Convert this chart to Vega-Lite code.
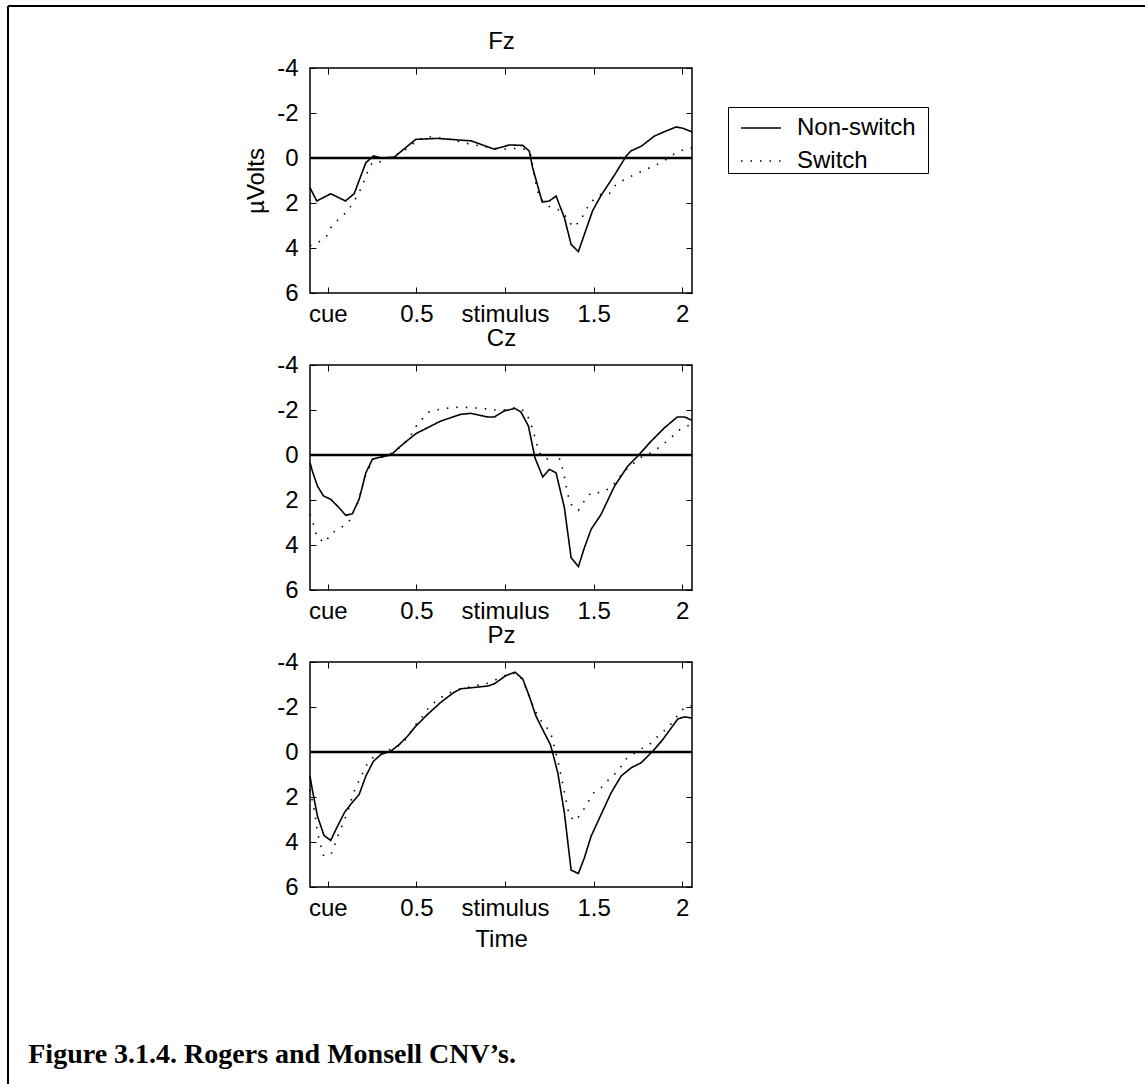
{
  "$schema": "https://vega.github.io/schema/vega-lite/v6.json",
  "background": "white",
  "padding": {"left": 6, "top": 4, "right": 0, "bottom": 0},
  "datasets": {
    "zero": [{"t": -0.1, "v": 0}, {"t": 2.055, "v": 0}],
    "eeg": [
      {"s":"Fz","c":"Non-switch","t":-0.1,"v":1.32},{"s":"Fz","c":"Non-switch","t":-0.062,"v":1.91},{"s":"Fz","c":"Non-switch","t":0.017,"v":1.59},{"s":"Fz","c":"Non-switch","t":0.10,"v":1.91},{"s":"Fz","c":"Non-switch","t":0.149,"v":1.59},{"s":"Fz","c":"Non-switch","t":0.215,"v":0.21},{"s":"Fz","c":"Non-switch","t":0.258,"v":-0.09},{"s":"Fz","c":"Non-switch","t":0.30,"v":0.0},{"s":"Fz","c":"Non-switch","t":0.375,"v":-0.04},{"s":"Fz","c":"Non-switch","t":0.497,"v":-0.83},{"s":"Fz","c":"Non-switch","t":0.62,"v":-0.87},{"s":"Fz","c":"Non-switch","t":0.81,"v":-0.76},{"s":"Fz","c":"Non-switch","t":0.94,"v":-0.39},{"s":"Fz","c":"Non-switch","t":1.025,"v":-0.58},{"s":"Fz","c":"Non-switch","t":1.10,"v":-0.56},{"s":"Fz","c":"Non-switch","t":1.137,"v":-0.31},{"s":"Fz","c":"Non-switch","t":1.156,"v":0.43},{"s":"Fz","c":"Non-switch","t":1.21,"v":1.96},{"s":"Fz","c":"Non-switch","t":1.25,"v":1.91},{"s":"Fz","c":"Non-switch","t":1.288,"v":1.69},{"s":"Fz","c":"Non-switch","t":1.335,"v":2.65},{"s":"Fz","c":"Non-switch","t":1.373,"v":3.84},{"s":"Fz","c":"Non-switch","t":1.414,"v":4.16},{"s":"Fz","c":"Non-switch","t":1.448,"v":3.39},{"s":"Fz","c":"Non-switch","t":1.495,"v":2.33},{"s":"Fz","c":"Non-switch","t":1.54,"v":1.69},{"s":"Fz","c":"Non-switch","t":1.62,"v":0.73},{"s":"Fz","c":"Non-switch","t":1.684,"v":-0.09},{"s":"Fz","c":"Non-switch","t":1.71,"v":-0.31},{"s":"Fz","c":"Non-switch","t":1.77,"v":-0.53},{"s":"Fz","c":"Non-switch","t":1.844,"v":-0.98},{"s":"Fz","c":"Non-switch","t":1.90,"v":-1.17},{"s":"Fz","c":"Non-switch","t":1.966,"v":-1.38},{"s":"Fz","c":"Non-switch","t":2.004,"v":-1.32},{"s":"Fz","c":"Non-switch","t":2.055,"v":-1.16},
      {"s":"Fz","c":"Switch","t":-0.1,"v":3.9},{"s":"Fz","c":"Switch","t":-0.055,"v":3.76},{"s":"Fz","c":"Switch","t":-0.006,"v":3.47},{"s":"Fz","c":"Switch","t":0.02,"v":3.07},{"s":"Fz","c":"Switch","t":0.064,"v":2.7},{"s":"Fz","c":"Switch","t":0.107,"v":2.4},{"s":"Fz","c":"Switch","t":0.143,"v":1.99},{"s":"Fz","c":"Switch","t":0.177,"v":1.54},{"s":"Fz","c":"Switch","t":0.205,"v":1.02},{"s":"Fz","c":"Switch","t":0.234,"v":0.43},{"s":"Fz","c":"Switch","t":0.252,"v":0.21},{"s":"Fz","c":"Switch","t":0.30,"v":0.16},{"s":"Fz","c":"Switch","t":0.337,"v":0.01},{"s":"Fz","c":"Switch","t":0.416,"v":-0.24},{"s":"Fz","c":"Switch","t":0.507,"v":-0.79},{"s":"Fz","c":"Switch","t":0.563,"v":-0.95},{"s":"Fz","c":"Switch","t":0.629,"v":-0.9},{"s":"Fz","c":"Switch","t":0.686,"v":-0.83},{"s":"Fz","c":"Switch","t":0.808,"v":-0.61},{"s":"Fz","c":"Switch","t":0.94,"v":-0.43},{"s":"Fz","c":"Switch","t":0.987,"v":-0.39},{"s":"Fz","c":"Switch","t":1.043,"v":-0.43},{"s":"Fz","c":"Switch","t":1.109,"v":-0.39},{"s":"Fz","c":"Switch","t":1.143,"v":-0.24},{"s":"Fz","c":"Switch","t":1.166,"v":0.87},{"s":"Fz","c":"Switch","t":1.194,"v":1.76},{"s":"Fz","c":"Switch","t":1.25,"v":2.16},{"s":"Fz","c":"Switch","t":1.298,"v":2.28},{"s":"Fz","c":"Switch","t":1.35,"v":2.65},{"s":"Fz","c":"Switch","t":1.382,"v":3.07},{"s":"Fz","c":"Switch","t":1.426,"v":2.8},{"s":"Fz","c":"Switch","t":1.452,"v":2.36},{"s":"Fz","c":"Switch","t":1.486,"v":1.94},{"s":"Fz","c":"Switch","t":1.542,"v":1.61},{"s":"Fz","c":"Switch","t":1.589,"v":1.58},{"s":"Fz","c":"Switch","t":1.627,"v":1.17},{"s":"Fz","c":"Switch","t":1.684,"v":0.92},{"s":"Fz","c":"Switch","t":1.74,"v":0.7},{"s":"Fz","c":"Switch","t":1.797,"v":0.5},{"s":"Fz","c":"Switch","t":1.853,"v":0.31},{"s":"Fz","c":"Switch","t":1.91,"v":0.06},{"s":"Fz","c":"Switch","t":1.957,"v":-0.19},{"s":"Fz","c":"Switch","t":2.013,"v":-0.39},{"s":"Fz","c":"Switch","t":2.055,"v":-0.46},
      {"s":"Cz","c":"Non-switch","t":-0.1,"v":0.34},{"s":"Cz","c":"Non-switch","t":-0.087,"v":0.71},{"s":"Cz","c":"Non-switch","t":-0.058,"v":1.38},{"s":"Cz","c":"Non-switch","t":-0.024,"v":1.82},{"s":"Cz","c":"Non-switch","t":0.017,"v":1.97},{"s":"Cz","c":"Non-switch","t":0.055,"v":2.27},{"s":"Cz","c":"Non-switch","t":0.102,"v":2.68},{"s":"Cz","c":"Non-switch","t":0.139,"v":2.61},{"s":"Cz","c":"Non-switch","t":0.177,"v":1.97},{"s":"Cz","c":"Non-switch","t":0.215,"v":0.79},{"s":"Cz","c":"Non-switch","t":0.252,"v":0.19},{"s":"Cz","c":"Non-switch","t":0.30,"v":0.09},{"s":"Cz","c":"Non-switch","t":0.356,"v":0.0},{"s":"Cz","c":"Non-switch","t":0.412,"v":-0.4},{"s":"Cz","c":"Non-switch","t":0.497,"v":-0.95},{"s":"Cz","c":"Non-switch","t":0.563,"v":-1.21},{"s":"Cz","c":"Non-switch","t":0.638,"v":-1.51},{"s":"Cz","c":"Non-switch","t":0.751,"v":-1.81},{"s":"Cz","c":"Non-switch","t":0.808,"v":-1.85},{"s":"Cz","c":"Non-switch","t":0.902,"v":-1.69},{"s":"Cz","c":"Non-switch","t":0.94,"v":-1.69},{"s":"Cz","c":"Non-switch","t":0.996,"v":-1.96},{"s":"Cz","c":"Non-switch","t":1.056,"v":-2.07},{"s":"Cz","c":"Non-switch","t":1.09,"v":-1.91},{"s":"Cz","c":"Non-switch","t":1.132,"v":-1.29},{"s":"Cz","c":"Non-switch","t":1.169,"v":0.12},{"s":"Cz","c":"Non-switch","t":1.213,"v":0.98},{"s":"Cz","c":"Non-switch","t":1.25,"v":0.64},{"s":"Cz","c":"Non-switch","t":1.288,"v":0.79},{"s":"Cz","c":"Non-switch","t":1.335,"v":2.34},{"s":"Cz","c":"Non-switch","t":1.373,"v":4.56},{"s":"Cz","c":"Non-switch","t":1.414,"v":4.96},{"s":"Cz","c":"Non-switch","t":1.448,"v":4.12},{"s":"Cz","c":"Non-switch","t":1.486,"v":3.3},{"s":"Cz","c":"Non-switch","t":1.542,"v":2.64},{"s":"Cz","c":"Non-switch","t":1.618,"v":1.38},{"s":"Cz","c":"Non-switch","t":1.693,"v":0.49},{"s":"Cz","c":"Non-switch","t":1.75,"v":0.04},{"s":"Cz","c":"Non-switch","t":1.825,"v":-0.62},{"s":"Cz","c":"Non-switch","t":1.90,"v":-1.21},{"s":"Cz","c":"Non-switch","t":1.972,"v":-1.69},{"s":"Cz","c":"Non-switch","t":2.013,"v":-1.69},{"s":"Cz","c":"Non-switch","t":2.055,"v":-1.54},
      {"s":"Cz","c":"Switch","t":-0.1,"v":2.64},{"s":"Cz","c":"Switch","t":-0.077,"v":3.16},{"s":"Cz","c":"Switch","t":-0.062,"v":3.64},{"s":"Cz","c":"Switch","t":-0.017,"v":3.9},{"s":"Cz","c":"Switch","t":0.021,"v":3.48},{"s":"Cz","c":"Switch","t":0.07,"v":3.26},{"s":"Cz","c":"Switch","t":0.12,"v":2.96},{"s":"Cz","c":"Switch","t":0.171,"v":2.1},{"s":"Cz","c":"Switch","t":0.215,"v":0.86},{"s":"Cz","c":"Switch","t":0.262,"v":0.12},{"s":"Cz","c":"Switch","t":0.318,"v":0.09},{"s":"Cz","c":"Switch","t":0.394,"v":-0.25},{"s":"Cz","c":"Switch","t":0.46,"v":-0.74},{"s":"Cz","c":"Switch","t":0.488,"v":-1.17},{"s":"Cz","c":"Switch","t":0.525,"v":-1.54},{"s":"Cz","c":"Switch","t":0.572,"v":-1.91},{"s":"Cz","c":"Switch","t":0.629,"v":-2.03},{"s":"Cz","c":"Switch","t":0.695,"v":-2.1},{"s":"Cz","c":"Switch","t":0.751,"v":-2.13},{"s":"Cz","c":"Switch","t":0.817,"v":-2.1},{"s":"Cz","c":"Switch","t":0.883,"v":-2.06},{"s":"Cz","c":"Switch","t":0.94,"v":-2.0},{"s":"Cz","c":"Switch","t":0.996,"v":-2.0},{"s":"Cz","c":"Switch","t":1.056,"v":-2.1},{"s":"Cz","c":"Switch","t":1.109,"v":-1.96},{"s":"Cz","c":"Switch","t":1.14,"v":-1.54},{"s":"Cz","c":"Switch","t":1.158,"v":-1.07},{"s":"Cz","c":"Switch","t":1.175,"v":-0.62},{"s":"Cz","c":"Switch","t":1.19,"v":-0.18},{"s":"Cz","c":"Switch","t":1.213,"v":0.12},{"s":"Cz","c":"Switch","t":1.25,"v":0.19},{"s":"Cz","c":"Switch","t":1.294,"v":-0.1},{"s":"Cz","c":"Switch","t":1.316,"v":0.34},{"s":"Cz","c":"Switch","t":1.331,"v":0.79},{"s":"Cz","c":"Switch","t":1.354,"v":1.75},{"s":"Cz","c":"Switch","t":1.373,"v":2.19},{"s":"Cz","c":"Switch","t":1.414,"v":2.46},{"s":"Cz","c":"Switch","t":1.448,"v":2.04},{"s":"Cz","c":"Switch","t":1.486,"v":1.67},{"s":"Cz","c":"Switch","t":1.542,"v":1.67},{"s":"Cz","c":"Switch","t":1.599,"v":1.45},{"s":"Cz","c":"Switch","t":1.674,"v":0.71},{"s":"Cz","c":"Switch","t":1.73,"v":0.34},{"s":"Cz","c":"Switch","t":1.778,"v":0.04},{"s":"Cz","c":"Switch","t":1.825,"v":-0.1},{"s":"Cz","c":"Switch","t":1.881,"v":-0.4},{"s":"Cz","c":"Switch","t":1.928,"v":-0.7},{"s":"Cz","c":"Switch","t":1.975,"v":-1.07},{"s":"Cz","c":"Switch","t":2.02,"v":-1.29},{"s":"Cz","c":"Switch","t":2.055,"v":-1.32},
      {"s":"Pz","c":"Non-switch","t":-0.1,"v":1.07},{"s":"Pz","c":"Non-switch","t":-0.087,"v":1.67},{"s":"Pz","c":"Non-switch","t":-0.058,"v":2.85},{"s":"Pz","c":"Non-switch","t":-0.021,"v":3.71},{"s":"Pz","c":"Non-switch","t":0.017,"v":3.93},{"s":"Pz","c":"Non-switch","t":0.055,"v":3.3},{"s":"Pz","c":"Non-switch","t":0.096,"v":2.67},{"s":"Pz","c":"Non-switch","t":0.139,"v":2.23},{"s":"Pz","c":"Non-switch","t":0.177,"v":1.89},{"s":"Pz","c":"Non-switch","t":0.215,"v":1.07},{"s":"Pz","c":"Non-switch","t":0.258,"v":0.41},{"s":"Pz","c":"Non-switch","t":0.30,"v":0.11},{"s":"Pz","c":"Non-switch","t":0.356,"v":-0.04},{"s":"Pz","c":"Non-switch","t":0.403,"v":-0.33},{"s":"Pz","c":"Non-switch","t":0.45,"v":-0.7},{"s":"Pz","c":"Non-switch","t":0.497,"v":-1.15},{"s":"Pz","c":"Non-switch","t":0.563,"v":-1.67},{"s":"Pz","c":"Non-switch","t":0.638,"v":-2.21},{"s":"Pz","c":"Non-switch","t":0.714,"v":-2.66},{"s":"Pz","c":"Non-switch","t":0.751,"v":-2.81},{"s":"Pz","c":"Non-switch","t":0.827,"v":-2.87},{"s":"Pz","c":"Non-switch","t":0.902,"v":-2.93},{"s":"Pz","c":"Non-switch","t":0.94,"v":-3.03},{"s":"Pz","c":"Non-switch","t":1.006,"v":-3.4},{"s":"Pz","c":"Non-switch","t":1.056,"v":-3.55},{"s":"Pz","c":"Non-switch","t":1.1,"v":-3.25},{"s":"Pz","c":"Non-switch","t":1.137,"v":-2.48},{"s":"Pz","c":"Non-switch","t":1.175,"v":-1.59},{"s":"Pz","c":"Non-switch","t":1.222,"v":-0.85},{"s":"Pz","c":"Non-switch","t":1.256,"v":-0.33},{"s":"Pz","c":"Non-switch","t":1.269,"v":0.04},{"s":"Pz","c":"Non-switch","t":1.298,"v":0.93},{"s":"Pz","c":"Non-switch","t":1.335,"v":2.7},{"s":"Pz","c":"Non-switch","t":1.373,"v":5.25},{"s":"Pz","c":"Non-switch","t":1.414,"v":5.4},{"s":"Pz","c":"Non-switch","t":1.448,"v":4.7},{"s":"Pz","c":"Non-switch","t":1.486,"v":3.74},{"s":"Pz","c":"Non-switch","t":1.542,"v":2.78},{"s":"Pz","c":"Non-switch","t":1.599,"v":1.81},{"s":"Pz","c":"Non-switch","t":1.655,"v":1.07},{"s":"Pz","c":"Non-switch","t":1.712,"v":0.7},{"s":"Pz","c":"Non-switch","t":1.768,"v":0.48},{"s":"Pz","c":"Non-switch","t":1.834,"v":-0.04},{"s":"Pz","c":"Non-switch","t":1.89,"v":-0.55},{"s":"Pz","c":"Non-switch","t":1.938,"v":-1.07},{"s":"Pz","c":"Non-switch","t":1.975,"v":-1.47},{"s":"Pz","c":"Non-switch","t":2.013,"v":-1.56},{"s":"Pz","c":"Non-switch","t":2.055,"v":-1.51},
      {"s":"Pz","c":"Switch","t":-0.1,"v":1.67},{"s":"Pz","c":"Switch","t":-0.087,"v":2.18},{"s":"Pz","c":"Switch","t":-0.073,"v":2.7},{"s":"Pz","c":"Switch","t":-0.058,"v":3.59},{"s":"Pz","c":"Switch","t":-0.04,"v":4.14},{"s":"Pz","c":"Switch","t":-0.024,"v":4.59},{"s":"Pz","c":"Switch","t":0.017,"v":4.59},{"s":"Pz","c":"Switch","t":0.041,"v":4.1},{"s":"Pz","c":"Switch","t":0.064,"v":3.59},{"s":"Pz","c":"Switch","t":0.111,"v":2.7},{"s":"Pz","c":"Switch","t":0.145,"v":1.81},{"s":"Pz","c":"Switch","t":0.171,"v":1.37},{"s":"Pz","c":"Switch","t":0.196,"v":0.96},{"s":"Pz","c":"Switch","t":0.224,"v":0.51},{"s":"Pz","c":"Switch","t":0.262,"v":0.19},{"s":"Pz","c":"Switch","t":0.318,"v":-0.04},{"s":"Pz","c":"Switch","t":0.384,"v":-0.18},{"s":"Pz","c":"Switch","t":0.431,"v":-0.48},{"s":"Pz","c":"Switch","t":0.497,"v":-1.22},{"s":"Pz","c":"Switch","t":0.535,"v":-1.59},{"s":"Pz","c":"Switch","t":0.572,"v":-2.0},{"s":"Pz","c":"Switch","t":0.62,"v":-2.33},{"s":"Pz","c":"Switch","t":0.676,"v":-2.59},{"s":"Pz","c":"Switch","t":0.732,"v":-2.77},{"s":"Pz","c":"Switch","t":0.789,"v":-2.87},{"s":"Pz","c":"Switch","t":0.845,"v":-2.96},{"s":"Pz","c":"Switch","t":0.911,"v":-3.07},{"s":"Pz","c":"Switch","t":0.968,"v":-3.29},{"s":"Pz","c":"Switch","t":1.024,"v":-3.47},{"s":"Pz","c":"Switch","t":1.062,"v":-3.51},{"s":"Pz","c":"Switch","t":1.1,"v":-3.21},{"s":"Pz","c":"Switch","t":1.132,"v":-2.55},{"s":"Pz","c":"Switch","t":1.156,"v":-2.1},{"s":"Pz","c":"Switch","t":1.185,"v":-1.59},{"s":"Pz","c":"Switch","t":1.218,"v":-1.22},{"s":"Pz","c":"Switch","t":1.256,"v":-0.92},{"s":"Pz","c":"Switch","t":1.301,"v":0.48},{"s":"Pz","c":"Switch","t":1.326,"v":1.44},{"s":"Pz","c":"Switch","t":1.363,"v":2.85},{"s":"Pz","c":"Switch","t":1.397,"v":3.07},{"s":"Pz","c":"Switch","t":1.433,"v":2.7},{"s":"Pz","c":"Switch","t":1.467,"v":2.25},{"s":"Pz","c":"Switch","t":1.501,"v":1.81},{"s":"Pz","c":"Switch","t":1.542,"v":1.59},{"s":"Pz","c":"Switch","t":1.589,"v":1.19},{"s":"Pz","c":"Switch","t":1.637,"v":0.85},{"s":"Pz","c":"Switch","t":1.684,"v":0.3},{"s":"Pz","c":"Switch","t":1.768,"v":-0.14},{"s":"Pz","c":"Switch","t":1.815,"v":-0.33},{"s":"Pz","c":"Switch","t":1.872,"v":-0.78},{"s":"Pz","c":"Switch","t":1.919,"v":-1.07},{"s":"Pz","c":"Switch","t":1.957,"v":-1.44},{"s":"Pz","c":"Switch","t":1.994,"v":-1.85},{"s":"Pz","c":"Switch","t":2.041,"v":-2.07},{"s":"Pz","c":"Switch","t":2.055,"v":-2.04}
    ]
  },
  "title": {
    "text": "Figure 3.1.4. Rogers and Monsell CNV’s.",
    "orient": "bottom",
    "anchor": "start",
    "font": "Liberation Serif",
    "fontWeight": "bold",
    "fontSize": 28,
    "color": "black",
    "offset": -45,
    "dx": 22
  },
  "bounds": "flush",
  "spacing": 72,
  "resolve": {"scale": {"strokeDash": "independent", "fill": "independent"}, "legend": {"strokeDash": "independent", "fill": "independent"}},
  "vconcat": [
    {
      "width": 382, "height": 225,
      "resolve": {"axis": {"x": "independent", "y": "independent"}},
      "layer": [
        {
          "data": {"name": "zero"},
          "mark": {"type": "line", "color": "black", "strokeWidth": 2.5},
          "encoding": {
            "x": {"field": "t", "type": "quantitative", "scale": {"domain": [-0.1, 2.055], "nice": false, "zero": false}, "axis": {"orient": "top", "labels": false, "title": "Fz", "values": [0, 0.5, 1, 1.5, 2]}},
            "y": {"field": "v", "type": "quantitative", "scale": {"domain": [-4, 6], "reverse": true, "nice": false, "zero": false}, "axis": {"orient": "right", "labels": false, "title": null, "values": [-4, -2, 0, 2, 4, 6]}}
          }
        },
        {
          "data": {"name": "eeg"},
          "transform": [{"filter": "datum.s === 'Fz'"}],
          "mark": {"type": "line", "color": "black", "strokeWidth": 1.6},
          "encoding": {
            "x": {"field": "t", "type": "quantitative", "axis": {"orient": "bottom", "title": null, "values": [0, 0.5, 1, 1.5, 2], "labelExpr": "datum.value === 0 ? 'cue' : datum.value === 1 ? 'stimulus' : '' + datum.value"}},
            "y": {"field": "v", "type": "quantitative", "axis": {"orient": "left", "title": "µVolts", "values": [-4, -2, 0, 2, 4, 6], "labelExpr": "'' + datum.value"}},
            "strokeDash": {"field": "c", "type": "nominal", "scale": {"domain": ["Non-switch", "Switch"], "range": [[1, 0], [1.5, 8]]},
              "legend": {"title": "\u00a0", "titleOrient": "right", "titlePadding": 12, "titleFontSize": 24, "orient": "none", "legendX": 418, "legendY": 39}}
          }
        },
        {
          "data": {"name": "zero"},
          "mark": {"type": "point", "opacity": 0},
          "encoding": {
            "x": {"field": "t", "type": "quantitative", "axis": null},
            "y": {"field": "v", "type": "quantitative", "axis": null},
            "fill": {"field": "v", "type": "quantitative", "scale": {"domain": [0, 1], "range": ["transparent", "transparent"]},
              "legend": {"title": null, "orient": "none", "legendX": -302, "legendY": -62, "direction": "vertical",
                "gradientLength": 1078, "gradientThickness": 1137, "gradientStrokeWidth": 0,
                "padding": 0, "fillColor": "transparent", "strokeColor": "black",
                "labelExpr": "''", "labelFontSize": 1, "labelOffset": 0, "tickCount": 2,
                "encode": {"legend": {"update": {"stroke": {"value": "black"}, "strokeWidth": {"value": 2}, "strokeDash": {"value": [1137, 2215, 1078, 0]}}}}}}
          }
        }
      ]
    },
    {
      "width": 382, "height": 225,
      "resolve": {"axis": {"x": "independent", "y": "independent"}},
      "layer": [
        {
          "data": {"name": "zero"},
          "mark": {"type": "line", "color": "black", "strokeWidth": 2.5},
          "encoding": {
            "x": {"field": "t", "type": "quantitative", "scale": {"domain": [-0.1, 2.055], "nice": false, "zero": false}, "axis": {"orient": "top", "labels": false, "title": "Cz", "values": [0, 0.5, 1, 1.5, 2]}},
            "y": {"field": "v", "type": "quantitative", "scale": {"domain": [-4, 6], "reverse": true, "nice": false, "zero": false}, "axis": {"orient": "right", "labels": false, "title": null, "values": [-4, -2, 0, 2, 4, 6]}}
          }
        },
        {
          "data": {"name": "eeg"},
          "transform": [{"filter": "datum.s === 'Cz'"}],
          "mark": {"type": "line", "color": "black", "strokeWidth": 1.6},
          "encoding": {
            "x": {"field": "t", "type": "quantitative", "axis": {"orient": "bottom", "title": null, "values": [0, 0.5, 1, 1.5, 2], "labelExpr": "datum.value === 0 ? 'cue' : datum.value === 1 ? 'stimulus' : '' + datum.value"}},
            "y": {"field": "v", "type": "quantitative", "axis": {"orient": "left", "title": null, "values": [-4, -2, 0, 2, 4, 6], "labelExpr": "'' + datum.value"}},
            "strokeDash": {"field": "c", "type": "nominal", "scale": {"domain": ["Non-switch", "Switch"], "range": [[1, 0], [1.5, 8]]}, "legend": null}
          }
        }
      ]
    },
    {
      "width": 382, "height": 225,
      "resolve": {"axis": {"x": "independent", "y": "independent"}},
      "layer": [
        {
          "data": {"name": "zero"},
          "mark": {"type": "line", "color": "black", "strokeWidth": 2.5},
          "encoding": {
            "x": {"field": "t", "type": "quantitative", "scale": {"domain": [-0.1, 2.055], "nice": false, "zero": false}, "axis": {"orient": "top", "labels": false, "title": "Pz", "values": [0, 0.5, 1, 1.5, 2]}},
            "y": {"field": "v", "type": "quantitative", "scale": {"domain": [-4, 6], "reverse": true, "nice": false, "zero": false}, "axis": {"orient": "right", "labels": false, "title": null, "values": [-4, -2, 0, 2, 4, 6]}}
          }
        },
        {
          "data": {"name": "eeg"},
          "transform": [{"filter": "datum.s === 'Pz'"}],
          "mark": {"type": "line", "color": "black", "strokeWidth": 1.6},
          "encoding": {
            "x": {"field": "t", "type": "quantitative", "axis": {"orient": "bottom", "title": "Time", "values": [0, 0.5, 1, 1.5, 2], "labelExpr": "datum.value === 0 ? 'cue' : datum.value === 1 ? 'stimulus' : '' + datum.value"}},
            "y": {"field": "v", "type": "quantitative", "axis": {"orient": "left", "title": null, "values": [-4, -2, 0, 2, 4, 6], "labelExpr": "'' + datum.value"}},
            "strokeDash": {"field": "c", "type": "nominal", "scale": {"domain": ["Non-switch", "Switch"], "range": [[1, 0], [1.5, 8]]}, "legend": null}
          }
        }
      ]
    }
  ],
  "config": {
    "font": "Liberation Sans",
    "view": {"stroke": "black", "strokeWidth": 1.5},
    "axis": {
      "labelFont": "Liberation Sans", "labelFontSize": 24, "labelColor": "black",
      "titleFont": "Liberation Sans", "titleFontSize": 24, "titleFontWeight": "normal", "titleColor": "black",
      "grid": false, "domain": false, "tickColor": "black", "tickWidth": 1, "tickSize": -6,
      "labelFlush": false, "labelOverlap": false
    },
    "axisLeft": {"labelPadding": 18, "titlePadding": 8},
    "axisBottom": {"labelPadding": 15, "titlePadding": 7},
    "axisTop": {"titlePadding": 14},
    "legend": {
      "labelFont": "Liberation Sans", "labelFontSize": 24, "labelColor": "black",
      "symbolType": "stroke", "symbolSize": 1600, "symbolStrokeColor": "black", "symbolStrokeWidth": 1.5,
      "strokeColor": "black", "fillColor": "white", "padding": 0, "labelOffset": 15, "rowPadding": 0, "symbolOffset": 12,
      "gradientVerticalMaxLength": 3000, "gradientHorizontalMaxLength": 3000
    }
  }
}
